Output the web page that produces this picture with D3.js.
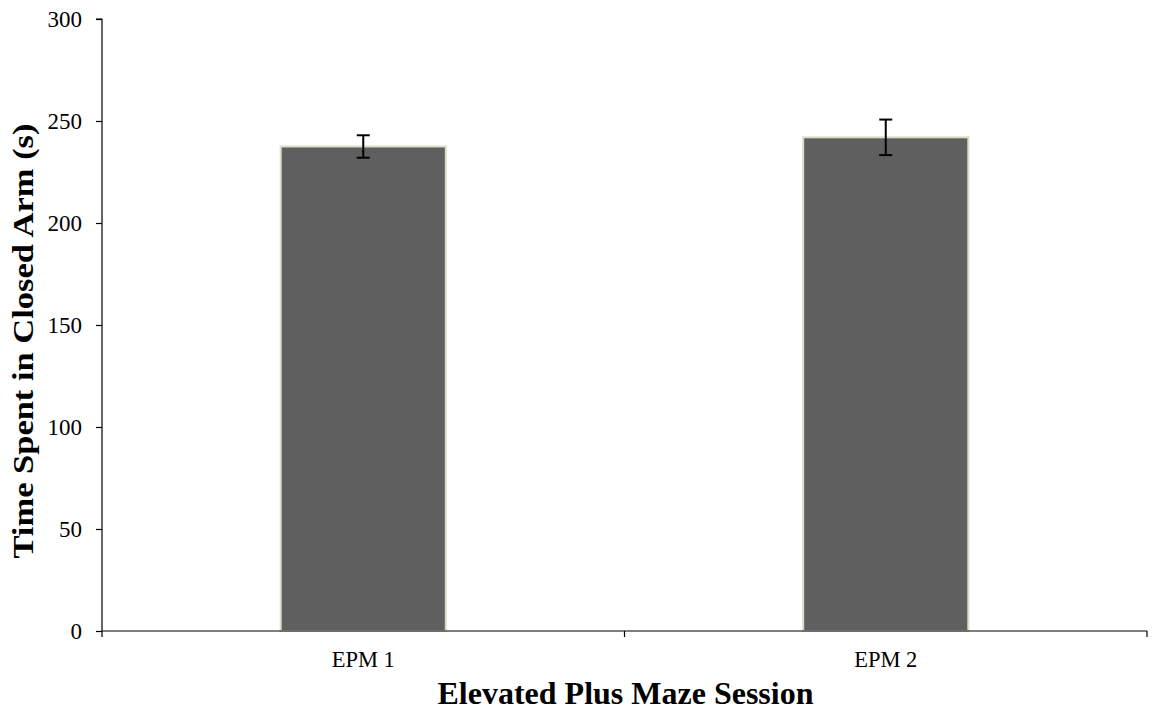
<!DOCTYPE html>
<html><head><meta charset="utf-8">
<script src="https://cdn.jsdelivr.net/npm/d3@7"></script>
<style>body{margin:0;background:#fff}svg{display:block}</style>
</head><body>
<script>
const categories = ["EPM 1", "EPM 2"];
const values = [237.5, 242];
const errors = [5.5, 8.7];
const yTicks = [0, 50, 100, 150, 200, 250, 300];

const W = 1152, H = 712;
const m = {left: 102, right: 5, top: 19, bottom: 81};
const svg = d3.select("body").append("svg").attr("width", W).attr("height", H);
const x = d3.scaleBand().domain(categories).range([m.left, W - m.right]).paddingInner(0).paddingOuter(0);
const y = d3.scaleLinear().domain([0, 300]).range([H - m.bottom, m.top]);
const font = "Liberation Serif, Times New Roman, serif";

const bw = x.bandwidth() * 0.316;
svg.selectAll("rect.bar").data(categories).join("rect")
  .attr("x", d => x(d) + x.bandwidth()/2 - bw/2)
  .attr("y", (d,i) => y(values[i]))
  .attr("width", bw)
  .attr("height", (d,i) => y(0) - y(values[i]))
  .attr("fill", "#5f5f5f").attr("stroke", "#dcdcc8").attr("stroke-width", 2);

// error bars
const eg = svg.append("g").attr("stroke", "#000").attr("stroke-width", 2);
categories.forEach((c, i) => {
  const cx = x(c) + x.bandwidth()/2;
  eg.append("line").attr("x1", cx).attr("x2", cx).attr("y1", y(values[i]+errors[i])).attr("y2", y(values[i]-errors[i]));
  eg.append("line").attr("x1", cx-6.5).attr("x2", cx+6.5).attr("y1", y(values[i]+errors[i])).attr("y2", y(values[i]+errors[i]));
  eg.append("line").attr("x1", cx-6.5).attr("x2", cx+6.5).attr("y1", y(values[i]-errors[i])).attr("y2", y(values[i]-errors[i]));
});

// y axis
const ya = svg.append("g").attr("transform", `translate(${m.left},0)`)
  .call(d3.axisLeft(y).tickValues(yTicks).tickSize(6).tickPadding(14).tickFormat(d3.format("d")));
ya.select(".domain").attr("stroke", "#000").attr("stroke-width", 1.2).attr("d", `M-6,${y(300)}H0V${y(0)}`);
ya.selectAll(".tick line").attr("stroke", "#000").attr("stroke-width", 1.2);
ya.selectAll("text").attr("font-family", font).attr("font-size", 23).attr("fill", "#000").attr("dy", "0.33em");

// x axis
const xa = svg.append("g").attr("transform", `translate(0,${y(0)})`)
  .call(d3.axisBottom(x).tickSize(0).tickPadding(0));
xa.select(".domain").attr("stroke", "#000").attr("stroke-width", 1.2).attr("d", `M${m.left},0H${W-m.right}`);
xa.selectAll("text").attr("font-family", font).attr("font-size", 22.5).attr("fill", "#000").attr("dy", 36).attr("y", 0);
const xt = [m.left, (m.left + W - m.right)/2, W - m.right];
svg.append("g").selectAll("line").data(xt).join("line")
  .attr("x1", d => d).attr("x2", d => d).attr("y1", y(0)).attr("y2", y(0)+6)
  .attr("stroke", "#000").attr("stroke-width", 1.2);

// titles
svg.append("text").attr("x", (m.left + W - m.right)/2 + 1).attr("y", 704)
  .attr("text-anchor", "middle").attr("font-family", font).attr("font-size", 32).attr("font-weight", "bold")
  .text("Elevated Plus Maze Session");
svg.append("text").attr("transform", `translate(33,341) rotate(-90)`)
  .attr("text-anchor", "middle").attr("font-family", font).attr("font-size", 29).attr("font-weight", "bold")
  .attr("textLength", 435).attr("lengthAdjust", "spacingAndGlyphs")
  .text("Time Spent in Closed Arm (s)");
</script>
</body></html>
